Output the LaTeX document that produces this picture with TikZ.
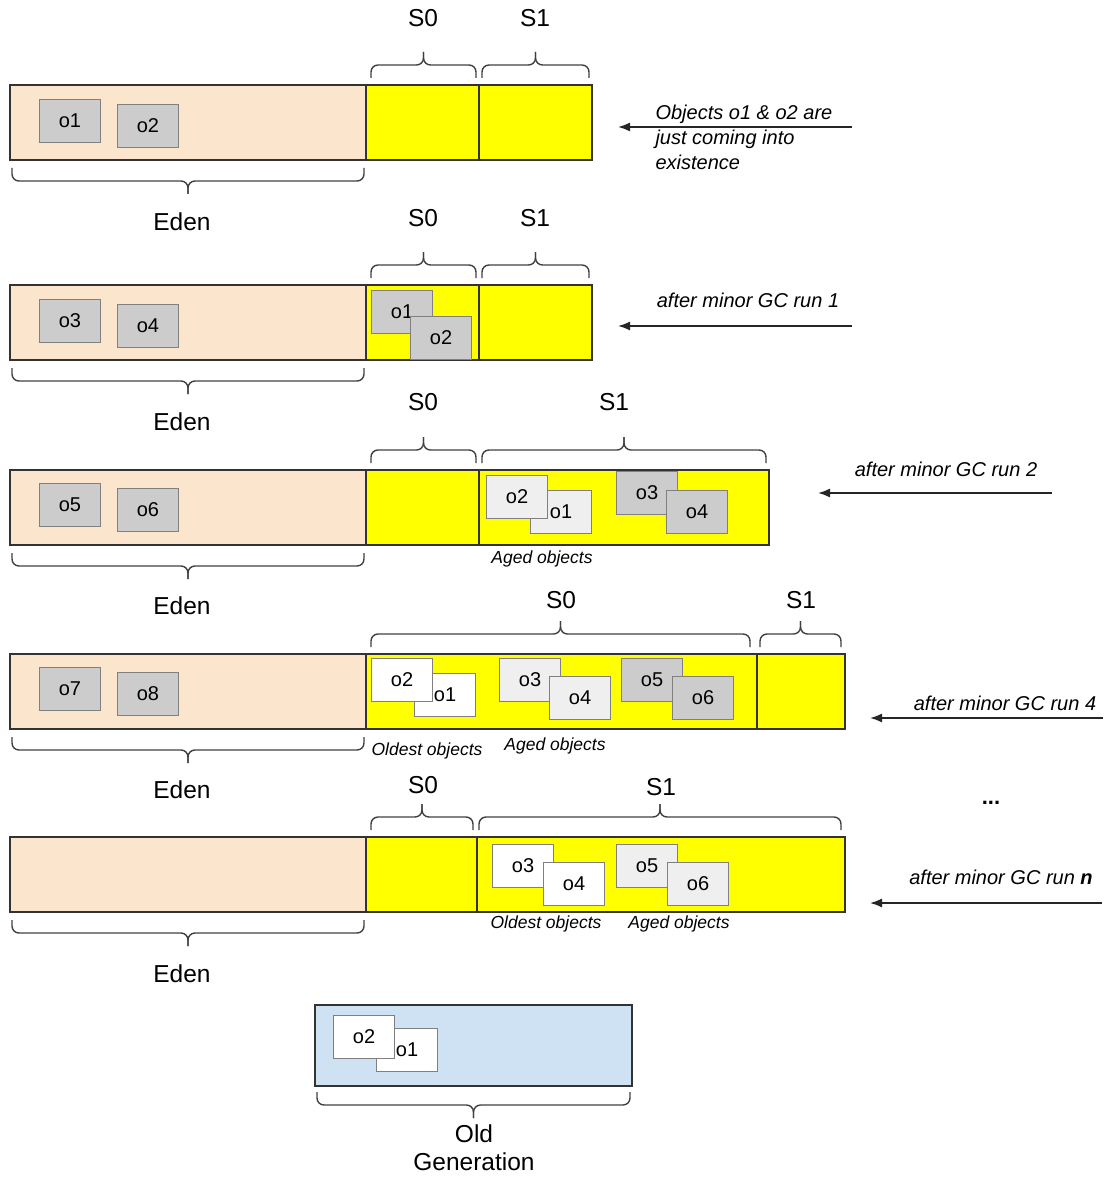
\documentclass[tikz,border=0pt]{standalone}
\usepackage{fontspec}
\setmainfont{Liberation Sans}
\usetikzlibrary{arrows.meta}
\definecolor{edenpeach}{HTML}{FCE5CD}
\definecolor{survyellow}{HTML}{FFFF00}
\definecolor{oldblue}{HTML}{CFE2F3}
\definecolor{objgray}{HTML}{CCCCCC}
\definecolor{objlight}{HTML}{EFEFEF}
\begin{document}
\begin{tikzpicture}[x=1pt,y=-1pt,
    space/.style={draw=black!80, line width=1.5pt},
    obj/.style={draw=black!50, line width=1.2pt, minimum width=61pt, minimum height=43pt,
        inner sep=0pt, font=\fontsize{20}{20}\selectfont},
    gray obj/.style={obj, fill=objgray},
    light obj/.style={obj, fill=objlight},
    white obj/.style={obj, fill=white},
    brc/.style={draw=black!75, line width=1.4pt, rounded corners=7pt},
    region/.style={font=\fontsize{24.5}{24.5}\selectfont},
    note/.style={font=\fontsize{20}{25}\selectfont\itshape, align=left},
    tag/.style={font=\fontsize{17.5}{17.5}\selectfont\itshape},
    arr/.style={draw=black!85, line width=1.6pt, -{Latex[length=12pt,width=9pt]}}]
\useasboundingbox (0,0) rectangle (1111,1177);
% braces : x from, x to, y of the two ends
\def\topbrace#1#2#3{%
  \draw[brc] (#1,#3) -- (#1,#3-13) -- ({(#1+#2)/2},#3-13) -- ({(#1+#2)/2},#3-26);
  \draw[brc] (#2,#3) -- (#2,#3-13) -- ({(#1+#2)/2},#3-13) -- ({(#1+#2)/2},#3-26);}
\def\botbrace#1#2#3{%
  \draw[brc] (#1,#3) -- (#1,#3+13) -- ({(#1+#2)/2},#3+13) -- ({(#1+#2)/2},#3+26);
  \draw[brc] (#2,#3) -- (#2,#3+13) -- ({(#1+#2)/2},#3+13) -- ({(#1+#2)/2},#3+26);}

% ---- row 1 : new objects
\draw[space, fill=edenpeach] (10,85) rectangle (366,160);
\draw[space, fill=survyellow] (366,85) rectangle (479,160);
\draw[space, fill=survyellow] (479,85) rectangle (592,160);
\node[gray obj] (r1o1) at (70,121) {o1};
\node[gray obj] (r1o2) at (148,126) {o2};
\topbrace{371}{476}{78} \topbrace{482}{589}{78}
\botbrace{12}{364}{168}
\node[region] (r1s0) at (423,18) {S0};
\node[region] (r1s1) at (535,18) {S1};
\node[region] (r1eden) at (182,222) {Eden};
\coordinate (r1from) at (852,127);
\coordinate (r1to) at (618,127);
\draw[arr] (r1from) -- (r1to);
\node[note, anchor=west] (r1note) at (652,137) {Objects o1 \& o2 are\\just coming into\\existence};

% ---- row 2 : after minor GC run 1
\draw[space, fill=edenpeach] (10,285) rectangle (366,360);
\draw[space, fill=survyellow] (366,285) rectangle (479,360);
\draw[space, fill=survyellow] (479,285) rectangle (592,360);
\node[gray obj] (r2o3) at (70,321) {o3};
\node[gray obj] (r2o4) at (148,326) {o4};
\node[gray obj] (r2o1) at (402,312) {o1};
\node[gray obj] (r2o2) at (441,338) {o2};
\topbrace{371}{476}{278} \topbrace{482}{589}{278}
\botbrace{12}{364}{368}
\node[region] (r2s0) at (423,218) {S0};
\node[region] (r2s1) at (535,218) {S1};
\node[region] (r2eden) at (182,422) {Eden};
\coordinate (r2from) at (852,326);
\coordinate (r2to) at (618,326);
\draw[arr] (r2from) -- (r2to);
\node[note] (r2note) at (748,300) {after minor GC run 1};

% ---- row 3 : after minor GC run 2
\draw[space, fill=edenpeach] (10,470) rectangle (366,545);
\draw[space, fill=survyellow] (366,470) rectangle (479,545);
\draw[space, fill=survyellow] (479,470) rectangle (769,545);
\node[gray obj] (r3o5) at (70,505) {o5};
\node[gray obj] (r3o6) at (148,510) {o6};
\node[light obj] (r3o1) at (561,512) {o1};
\node[light obj] (r3o2) at (517,497) {o2};
\node[gray obj] (r3o3) at (647,493) {o3};
\node[gray obj] (r3o4) at (697,512) {o4};
\node[tag] (r3aged) at (542,559) {Aged objects};
\topbrace{371}{476}{463} \topbrace{482}{766}{463}
\botbrace{12}{364}{553}
\node[region] (r3s0) at (423,402) {S0};
\node[region] (r3s1) at (614,402) {S1};
\node[region] (r3eden) at (182,606) {Eden};
\coordinate (r3from) at (1052,493);
\coordinate (r3to) at (818,493);
\draw[arr] (r3from) -- (r3to);
\node[note] (r3note) at (946,469) {after minor GC run 2};

% ---- row 4 : after minor GC run 4
\draw[space, fill=edenpeach] (10,654) rectangle (366,729);
\draw[space, fill=survyellow] (366,654) rectangle (757,729);
\draw[space, fill=survyellow] (757,654) rectangle (845,729);
\node[gray obj] (r4o7) at (70,689) {o7};
\node[gray obj] (r4o8) at (148,694) {o8};
\node[white obj] (r4o1) at (445,695) {o1};
\node[white obj] (r4o2) at (402,680) {o2};
\node[light obj] (r4o3) at (530,680) {o3};
\node[light obj] (r4o4) at (580,698) {o4};
\node[gray obj] (r4o5) at (652,680) {o5};
\node[gray obj] (r4o6) at (703,698) {o6};
\node[tag] (r4oldest) at (427,751) {Oldest objects};
\node[tag] (r4aged) at (555,746) {Aged objects};
\topbrace{371}{750}{647} \topbrace{760}{841}{647}
\botbrace{12}{364}{737}
\node[region] (r4s0) at (561,600) {S0};
\node[region] (r4s1) at (801,600) {S1};
\node[region] (r4eden) at (182,790) {Eden};
\coordinate (r4from) at (1103,718);
\coordinate (r4to) at (870,718);
\draw[arr] (r4from) -- (r4to);
\node[note] (r4note) at (1005,703) {after minor GC run 4};

% ---- row 5 : after minor GC run n
\draw[space, fill=edenpeach] (10,837) rectangle (366,912);
\draw[space, fill=survyellow] (366,837) rectangle (477,912);
\draw[space, fill=survyellow] (477,837) rectangle (845,912);
\node[white obj] (r5o3) at (523,866) {o3};
\node[white obj] (r5o4) at (574,884) {o4};
\node[light obj] (r5o5) at (647,866) {o5};
\node[light obj] (r5o6) at (698,884) {o6};
\node[tag] (r5oldest) at (546,924) {Oldest objects};
\node[tag] (r5aged) at (679,924) {Aged objects};
\topbrace{371}{473}{830} \topbrace{479}{841}{830}
\botbrace{12}{364}{920}
\node[region] (r5s0) at (423,785) {S0};
\node[region] (r5s1) at (661,787) {S1};
\node[region] (r5eden) at (182,974) {Eden};
\node[font=\fontsize{22}{22}\selectfont\bfseries] (dots) at (991,803) {...};
\coordinate (r5from) at (1102,903);
\coordinate (r5to) at (870,903);
\draw[arr] (r5from) -- (r5to);
\node[note] (r5note) at (1001,877) {after minor GC run \textbf{n}};

% ---- old generation
\draw[space, fill=oldblue] (315,1005) rectangle (632,1086);
\node[white obj] (oldo1) at (407,1050) {o1};
\node[white obj] (oldo2) at (364,1037) {o2};
\botbrace{317}{630}{1092}
\node[region] (oldlbl) at (474,1134) {Old};
\node[region] (genlbl) at (474,1162) {Generation};
\end{tikzpicture}
\end{document}
